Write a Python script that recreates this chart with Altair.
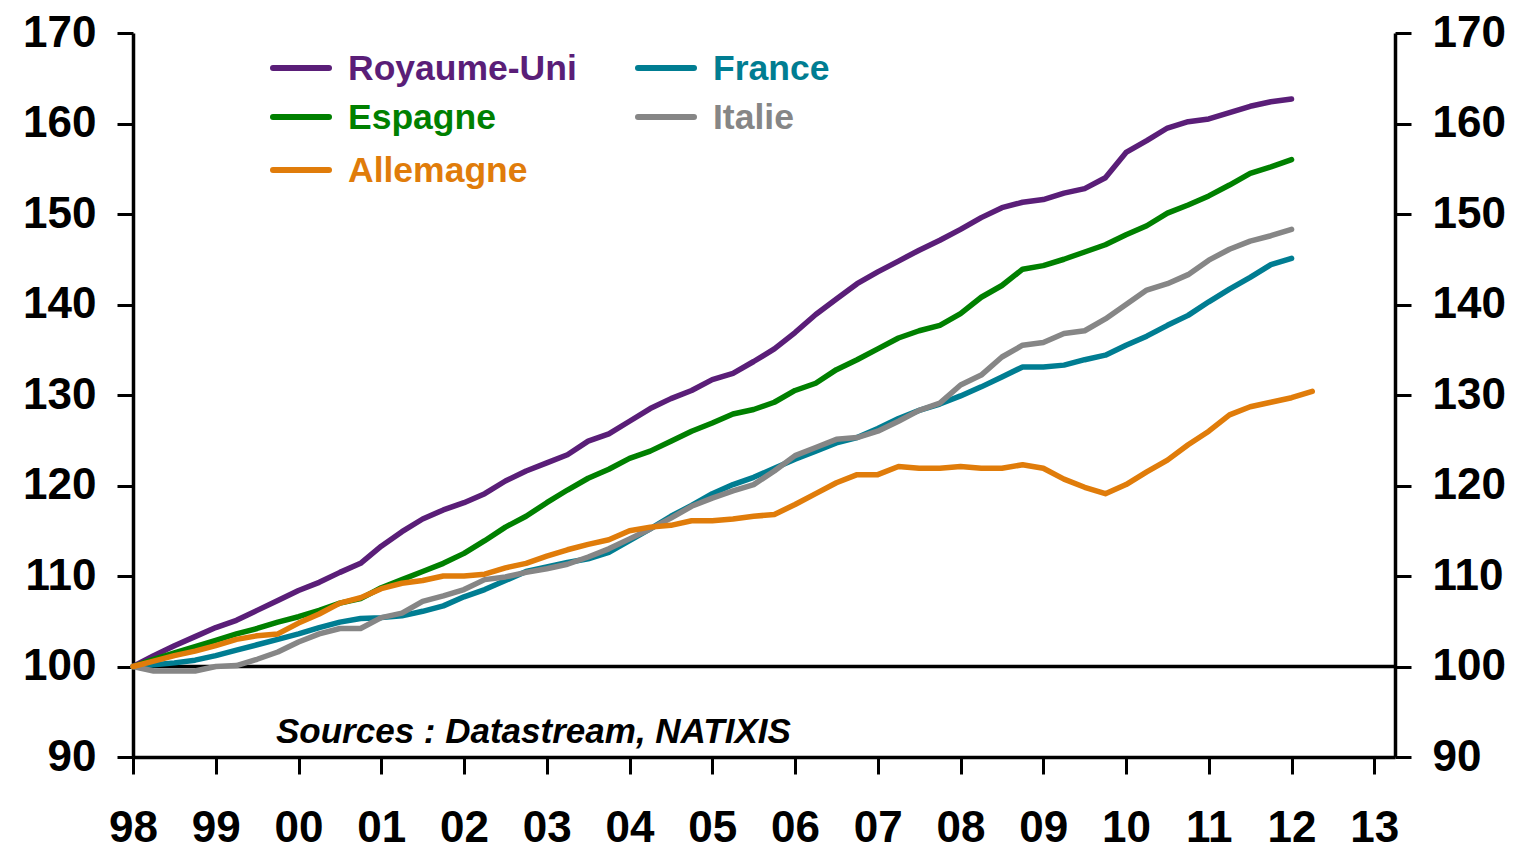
import altair as alt
import pandas as pd

# quarterly observations, 1998Q1 = 100
start_year = 1998
royaume_uni = [100.0, 101.2, 102.3, 103.3, 104.3, 105.1, 106.2, 107.3, 108.4, 109.3,
               110.4, 111.4, 113.3, 114.9, 116.3, 117.3, 118.1, 119.1, 120.5, 121.6,
               122.5, 123.4, 124.9, 125.7, 127.1, 128.5, 129.6, 130.5, 131.7, 132.4,
               133.7, 135.1, 136.9, 138.9, 140.6, 142.3, 143.6, 144.8, 146.0, 147.1,
               148.3, 149.6, 150.7, 151.3, 151.6, 152.3, 152.8, 154.0, 156.8, 158.1,
               159.5, 160.2, 160.5, 161.2, 161.9, 162.4, 162.7]
espagne = [100.0, 100.8, 101.5, 102.2, 102.9, 103.6, 104.2, 104.9, 105.5, 106.2,
           107.0, 107.5, 108.7, 109.6, 110.5, 111.4, 112.5, 113.9, 115.4, 116.6,
           118.1, 119.5, 120.8, 121.8, 123.0, 123.8, 124.9, 126.0, 126.9, 127.9,
           128.4, 129.2, 130.5, 131.3, 132.8, 133.9, 135.1, 136.3, 137.1, 137.7,
           139.0, 140.8, 142.1, 143.9, 144.3, 145.0, 145.8, 146.6, 147.7, 148.7,
           150.1, 151.0, 152.0, 153.2, 154.5, 155.2, 156.0]
allemagne = [100.0, 100.6, 101.2, 101.7, 102.3, 103.0, 103.4, 103.6, 104.8, 105.8,
             107.0, 107.6, 108.6, 109.2, 109.5, 110.0, 110.0, 110.2, 110.9, 111.4,
             112.2, 112.9, 113.5, 114.0, 115.0, 115.4, 115.6, 116.1, 116.1, 116.3,
             116.6, 116.8, 117.9, 119.1, 120.3, 121.2, 121.2, 122.1, 121.9, 121.9,
             122.1, 121.9, 121.9, 122.3, 121.9, 120.7, 119.8, 119.1, 120.1, 121.5,
             122.8, 124.5, 126.0, 127.8, 128.7, 129.2, 129.7, 130.4]
france = [100.0, 100.2, 100.4, 100.7, 101.2, 101.8, 102.4, 103.0, 103.6, 104.3,
          104.9, 105.3, 105.4, 105.6, 106.1, 106.7, 107.7, 108.5, 109.5, 110.5,
          111.0, 111.5, 111.9, 112.6, 113.9, 115.2, 116.6, 117.8, 119.1, 120.1,
          120.9, 121.9, 122.9, 123.8, 124.7, 125.3, 126.3, 127.4, 128.3, 129.0,
          129.9, 130.9, 132.0, 133.1, 133.1, 133.3, 133.9, 134.4, 135.5, 136.5,
          137.7, 138.8, 140.3, 141.7, 143.0, 144.4, 145.1]
italie = [100.0, 99.5, 99.5, 99.5, 100.0, 100.1, 100.8, 101.6, 102.7, 103.6,
          104.2, 104.2, 105.4, 105.9, 107.2, 107.8, 108.5, 109.6, 109.9, 110.4,
          110.8, 111.3, 112.1, 113.0, 114.1, 115.2, 116.4, 117.7, 118.6, 119.4,
          120.1, 121.6, 123.3, 124.2, 125.1, 125.3, 126.0, 127.1, 128.3, 129.1,
          131.1, 132.2, 134.2, 135.5, 135.8, 136.8, 137.1, 138.4, 140.0, 141.6,
          142.3, 143.3, 144.9, 146.1, 147.0, 147.6, 148.3]

series_names = ["Royaume-Uni", "Espagne", "France", "Italie", "Allemagne"]
series_values = [royaume_uni, espagne, france, italie, allemagne]
series_colors = ["#5a1e78", "#008000", "#007d92", "#868686", "#e07c0a"]
year_ticks = list(range(1998, 2014))
y_ticks = list(range(90, 171, 10))
source_text = "Sources : Datastream, NATIXIS"

rows = []
for name, vals in zip(series_names, series_values):
    for k, v in enumerate(vals):
        rows.append({"pays": name, "t": start_year + k / 4, "v": v})
df = pd.DataFrame(rows)

FONT = "Liberation Sans"
W, H = 1262, 724

xscale = alt.Scale(domain=[1998, 2013.25], nice=False, zero=False)
yscale = alt.Scale(domain=[90, 170], nice=False, zero=False)

x_axis = alt.Axis(values=year_ticks, labelExpr="format(datum.value % 100, '02d')",
                  tickSize=17, tickWidth=3, tickColor="black", domainColor="black",
                  domainWidth=3.5, labelFont=FONT, labelFontSize=44, labelFontWeight="bold",
                  labelColor="black", labelPadding=67, labelBaseline="alphabetic",
                  grid=False, title=None, labelFlush=False, labelOverlap=False)

def y_axis(orient):
    return alt.Axis(orient=orient, values=y_ticks, format="d", tickSize=16, tickWidth=3,
                    tickColor="black", domainColor="black", domainWidth=3.5,
                    labelFont=FONT, labelFontSize=44, labelFontWeight="bold",
                    labelColor="black", labelPadding=21, grid=False, title=None,
                    labelFlush=False, labelOverlap=False)

layers = []
# left axis carrier
layers.append(
    alt.Chart(df).mark_line(opacity=0).encode(
        x=alt.X("t:Q", scale=xscale, axis=x_axis),
        y=alt.Y("v:Q", scale=yscale, axis=y_axis("left")),
        detail="pays:N",
    )
)
# reference line at 100
layers.append(
    alt.Chart(pd.DataFrame({"v": [100]})).mark_rule(color="black", strokeWidth=3.5).encode(
        y=alt.Y("v:Q", scale=yscale, axis=None)
    )
)
for name, col in zip(series_names, series_colors):
    layers.append(
        alt.Chart(df).transform_filter(alt.datum.pays == name)
        .mark_line(color=col, strokeWidth=5.5, strokeCap="round", strokeJoin="round")
        .encode(
            x=alt.X("t:Q", scale=xscale, axis=x_axis),
            y=alt.Y("v:Q", scale=yscale, axis=None),
        )
    )
# right axis carrier
layers.append(
    alt.Chart(df).mark_line(opacity=0).encode(
        x=alt.X("t:Q", scale=xscale, axis=x_axis),
        y=alt.Y("v:Q", scale=yscale, axis=y_axis("right")),
        detail="pays:N",
    )
)

# legend (two columns)
legend_order = ["Royaume-Uni", "France", "Espagne", "Italie", "Allemagne"]
legend_pos = {"Royaume-Uni": (140, 35), "France": (505, 35),
              "Espagne": (140, 84), "Italie": (505, 84), "Allemagne": (140, 137)}
for name in legend_order:
    col = series_colors[series_names.index(name)]
    lx, ly = legend_pos[name]
    ldf = pd.DataFrame({"label": [name]})
    layers.append(
        alt.Chart(ldf).mark_rule(color=col, strokeWidth=6, strokeCap="round").encode(
            x=alt.value(lx), x2=alt.value(lx + 56), y=alt.value(ly)
        )
    )
    layers.append(
        alt.Chart(ldf).mark_text(font=FONT, fontSize=35.5, fontWeight="bold", color=col,
                                 align="left", baseline="middle").encode(
            x=alt.value(lx + 75), y=alt.value(ly + 1), text="label:N"
        )
    )

layers.append(
    alt.Chart(pd.DataFrame({"label": [source_text]})).mark_text(
        font=FONT, fontSize=35, fontWeight="bold", fontStyle="italic", color="black",
        align="left", baseline="middle").encode(
        x=alt.value(143), y=alt.value(699), text="label:N"
    )
)

chart = alt.layer(*layers).resolve_scale(y="independent").properties(
    width=W, height=H,
    background="white",
    autosize=alt.AutoSizeParams(type="none"),
    padding={"left": 125, "top": 25, "right": 115, "bottom": 94},
).configure_view(strokeWidth=0, stroke="transparent")

chart.save("out.html", embed_options={"renderer": "svg", "actions": False})
